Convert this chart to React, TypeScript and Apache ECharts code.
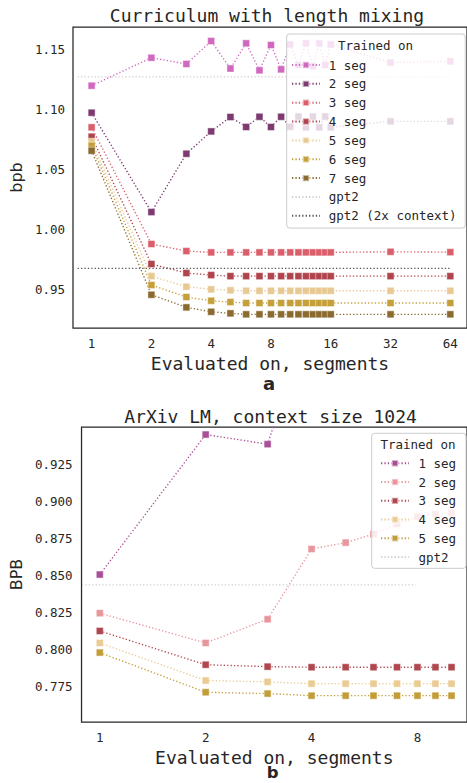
import React, { useEffect, useRef } from 'react';
import * as echarts from 'echarts';

// ---------- Panel a: Curriculum with length mixing ----------
const topSegments = [1, 2, 3, 4, 5, 6, 7, 8, 9, 10, 11, 12, 13, 14, 15, 16, 32, 64];
const topSeg1 = [1.1197, 1.143, 1.1378, 1.1569, 1.134, 1.155, 1.1325, 1.1536, 1.1333, 1.154, 1.137, 1.155, 1.136, 1.155, 1.137, 1.154, 1.139, 1.140];
const topSeg2 = [1.0972, 1.0144, 1.063, 1.0816, 1.0936, 1.0853, 1.0938, 1.0853, 1.0938, 1.0855, 1.094, 1.085, 1.094, 1.085, 1.094, 1.085, 1.09, 1.09];
const topSeg3 = [1.085, 0.9878, 0.9819, 0.9808, 0.9808, 0.9808, 0.9808, 0.9808, 0.9808, 0.9808, 0.9808, 0.9808, 0.9808, 0.9808, 0.9808, 0.9808, 0.9813, 0.981];
const topSeg4 = [1.0772, 0.9711, 0.9636, 0.9619, 0.961, 0.961, 0.961, 0.961, 0.961, 0.961, 0.961, 0.961, 0.961, 0.961, 0.961, 0.961, 0.961, 0.961];
const topSeg5 = [1.073, 0.961, 0.9522, 0.95, 0.9492, 0.9488, 0.9488, 0.9488, 0.9488, 0.9488, 0.9488, 0.9488, 0.9488, 0.9488, 0.9488, 0.9488, 0.9488, 0.9488];
const topSeg6 = [1.0697, 0.9536, 0.9436, 0.9405, 0.9394, 0.9386, 0.9386, 0.9386, 0.9386, 0.9386, 0.9386, 0.9386, 0.9386, 0.9386, 0.9386, 0.9386, 0.9386, 0.9386];
const topSeg7 = [1.0655, 0.9455, 0.935, 0.9313, 0.93, 0.9292, 0.9292, 0.9292, 0.9292, 0.9292, 0.9292, 0.9292, 0.9292, 0.9292, 0.9292, 0.9292, 0.9292, 0.9292];
const topNames = ['1 seg', '2 seg', '3 seg', '4 seg', '5 seg', '6 seg', '7 seg'];
const topColors = ['#d068c0', '#7d3a70', '#db5f6b', '#b0444d', '#e8c993', '#c5a03a', '#8b6a2f'];
const topXTicks = [1, 2, 4, 8, 16, 32, 64];
const topYTicks = [0.95, 1.0, 1.05, 1.1, 1.15];
const topGpt2 = 1.127;
const topGpt2x2 = 0.9675;
const topRefSpan = [0.85, 64];

// ---------- Panel b: ArXiv LM, context size 1024 ----------
const botSegments = [1, 2, 3, 4, 5, 6, 7, 8, 9, 10];
const botSeg1 = [0.8509, 0.9455, 0.939, 1.03];
const botSeg2 = [0.8248, 0.8047, 0.8207, 0.8682, 0.8725, 0.8782, 0.8851, 0.89, 0.8917, 0.8926];
const botSeg3 = [0.8128, 0.79, 0.7887, 0.7883, 0.7883, 0.7883, 0.7883, 0.7883, 0.7883, 0.7883];
const botSeg4 = [0.8047, 0.7793, 0.7784, 0.7772, 0.7772, 0.7772, 0.7772, 0.7772, 0.7772, 0.7772];
const botSeg5 = [0.7982, 0.7714, 0.7705, 0.7691, 0.7691, 0.7691, 0.7691, 0.7691, 0.7691, 0.7691];
const botNames = ['1 seg', '2 seg', '3 seg', '4 seg', '5 seg'];
const botColors = ['#a94f98', '#e8959b', '#b0474f', '#eacb92', '#c29d38'];
const botXTicks = [1, 2, 4, 8];
const botYTicks = [0.775, 0.8, 0.825, 0.85, 0.875, 0.9, 0.925];
const botGpt2 = 0.8439;
const botRefSpan = [0.89, 7.9];

const MONO = "'DejaVu Sans Mono', monospace";
const SANS = "'DejaVu Sans', sans-serif";
const INK = '#262626';
const DOT = [1.3, 2.1];

function segSeries(name: string, xs: number[], ys: number[], color: string) {
  return {
    type: 'line',
    name,
    data: ys.map((v, i) => [Math.log2(xs[i]), v]),
    symbol: 'rect',
    symbolSize: 7,
    lineStyle: { color, width: 1.35, type: DOT },
    itemStyle: { color, borderColor: 'rgba(255,255,255,0.55)', borderWidth: 0.8 },
    emphasis: { disabled: true },
    clip: true,
  };
}

function refSeries(name: string, span: number[], y: number, color: string) {
  return {
    type: 'line',
    name,
    data: span.map((s) => [Math.log2(s), y]),
    symbol: 'none',
    lineStyle: { color, width: 1.35, type: DOT },
    itemStyle: { color: 'rgba(0,0,0,0)', borderWidth: 0 },
    emphasis: { disabled: true },
  };
}

function axes(opts: any) {
  return {
    xAxis: {
      type: 'value',
      min: opts.xmin,
      max: opts.xmax,
      axisLine: { show: false },
      axisTick: { show: false },
      splitLine: { show: false },
      axisLabel: {
        customValues: opts.xTicks.map((t: number) => Math.log2(t)),
        formatter: (v: number) => String(Math.round(Math.pow(2, v))),
        fontFamily: MONO,
        fontSize: 12.5,
        color: INK,
        margin: 9,
      },
      name: 'Evaluated on, segments',
      nameLocation: 'middle',
      nameGap: opts.xNameGap,
      nameTextStyle: { fontFamily: MONO, fontSize: 18, color: INK, lineHeight: 16 },
    },
    yAxis: {
      type: 'value',
      min: opts.ymin,
      max: opts.ymax,
      axisLine: { show: false },
      axisTick: { show: false },
      splitLine: { show: false },
      axisLabel: {
        customValues: opts.yTicks,
        formatter: (v: number) => v.toFixed(opts.yDigits),
        fontFamily: MONO,
        fontSize: 12.5,
        color: INK,
        margin: opts.yMargin,
      },
      name: opts.yName,
      nameLocation: 'middle',
      nameGap: opts.yNameGap,
      nameTextStyle: { fontFamily: SANS, fontSize: 16, color: INK },
    },
  };
}

function legendOpt(names: string[], left: number, top: number, padding: number[], gap: number, textPad: number) {
  return {
    orient: 'vertical',
    left,
    top,
    padding,
    itemGap: gap,
    itemWidth: 28,
    itemHeight: 8,
    selectedMode: false,
    backgroundColor: 'rgba(255,255,255,0.8)',
    borderColor: '#cccccc',
    borderWidth: 1,
    borderRadius: 3,
    textStyle: { fontFamily: MONO, fontSize: 12.5, color: INK, lineHeight: 14, padding: [0, 0, 0, textPad] },
    data: names,
  };
}

function textEl(text: string, x: number, y: number, font: string, size: number, weight: string, lineHeight?: number) {
  return {
    type: 'text',
    x,
    y,
    z: 10,
    style: {
      text,
      fontFamily: font,
      fontSize: size,
      fontWeight: weight,
      fill: INK,
      align: 'center',
      verticalAlign: 'middle',
      lineHeight: lineHeight || size,
    },
  };
}

function topOption() {
  const segs = [topSeg1, topSeg2, topSeg3, topSeg4, topSeg5, topSeg6, topSeg7];
  return {
    animation: false,
    backgroundColor: '#ffffff',
    grid: { left: 67, top: 27, right: -2, bottom: 72, show: true, borderColor: INK, borderWidth: 1.25, backgroundColor: 'rgba(0,0,0,0)' },
    ...axes({
      xmin: -0.3115, xmax: 6.279, xTicks: topXTicks, xNameGap: 26,
      ymin: 0.9178, ymax: 1.1686, yTicks: topYTicks, yDigits: 2, yMargin: 8,
      yName: 'bpb', yNameGap: 40,
    }),
    legend: legendOpt([...topNames, 'gpt2', 'gpt2 (2x context)'], 286.7, 34, [24, 8.6, 5.3, 4.3], 4.85, 3.7),
    series: [
      ...segs.map((ys, i) => segSeries(topNames[i], topSegments, ys, topColors[i])),
      refSeries('gpt2', topRefSpan, topGpt2, '#cfcfcf'),
      refSeries('gpt2 (2x context)', topRefSpan, topGpt2x2, '#555555'),
    ],
    graphic: {
      elements: [
        textEl('Curriculum with length mixing', 267, 15.5, MONO, 18, 'normal'),
        textEl('Trained on', 375.5, 45.7, MONO, 12.5, 'normal'),
        textEl('a', 269, 383, SANS, 18, 'bold', 14),
      ],
    },
  };
}

function botOption() {
  const segs = [botSeg1, botSeg2, botSeg3, botSeg4, botSeg5];
  return {
    animation: false,
    backgroundColor: '#ffffff',
    grid: { left: 74, top: 27, right: -2, bottom: 61, show: true, borderColor: INK, borderWidth: 1.25, backgroundColor: 'rgba(0,0,0,0)' },
    ...axes({
      xmin: -0.1724, xmax: 3.468, xTicks: botXTicks, xNameGap: 19,
      ymin: 0.7513, ymax: 0.9506, yTicks: botYTicks, yDigits: 3, yMargin: 9,
      yName: 'BPB', yNameGap: 48,
    }),
    legend: legendOpt([...botNames, 'gpt2'], 371.7, 33.3, [23, 10, 4.3, 8.3], 4.75, 4.4),
    series: [
      ...segs.map((ys, i) => segSeries(botNames[i], botSegments, ys, botColors[i])),
      refSeries('gpt2', botRefSpan, botGpt2, '#cfcfcf'),
    ],
    graphic: {
      elements: [
        textEl('ArXiv LM, context size 1024', 270.5, 16.7, MONO, 18, 'normal'),
        textEl('Trained on', 418, 44.3, MONO, 12.5, 'normal'),
        textEl('b', 272.7, 372.5, SANS, 16.5, 'bold', 14),
      ],
    },
  };
}

function Chart({ option, width, height, top }: { option: any; width: number; height: number; top: number }) {
  const ref = useRef<HTMLDivElement>(null);
  useEffect(() => {
    if (!ref.current) return;
    const chart = echarts.init(ref.current, undefined, { renderer: 'svg' });
    chart.setOption(option);
    return () => chart.dispose();
  }, [option]);
  return <div ref={ref} style={{ position: 'absolute', left: 0, top, width, height }} />;
}

const TOP = topOption();
const BOT = botOption();

export default function App() {
  return (
    <div style={{ position: 'absolute', left: 0, top: 0, width: 467, height: 783, background: '#ffffff', overflow: 'hidden' }}>
      <Chart option={TOP} width={467} height={400} top={0} />
      <Chart option={BOT} width={467} height={383} top={400} />
    </div>
  );
}
